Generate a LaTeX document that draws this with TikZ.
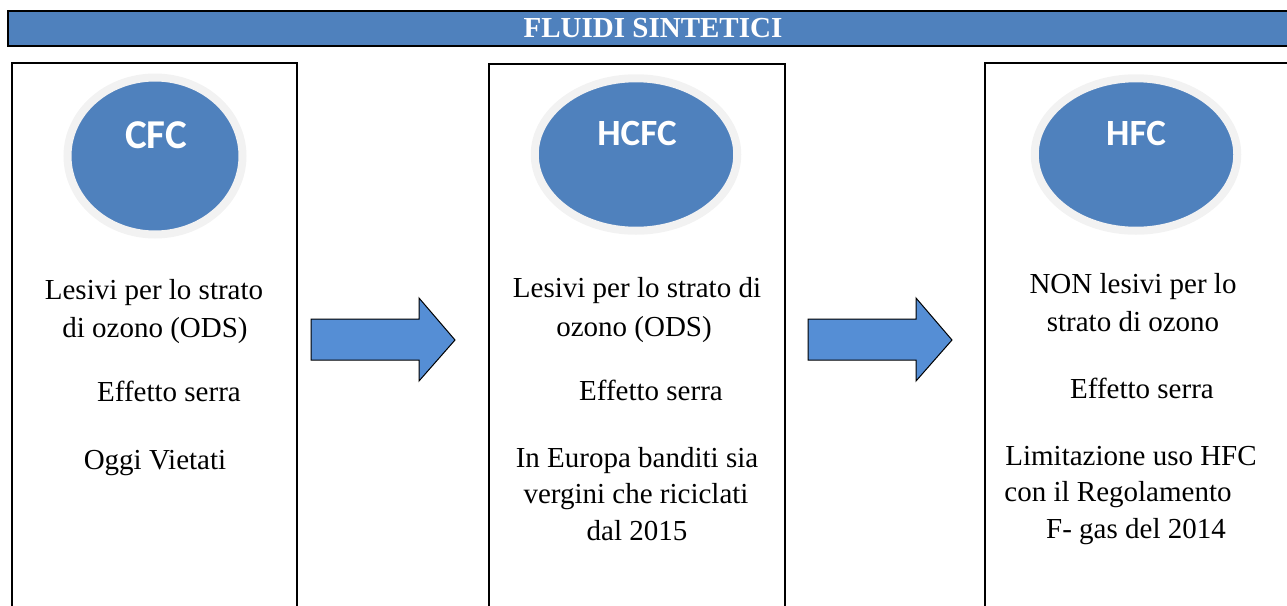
\documentclass[tikz,border=0pt]{standalone}
\usepackage{fontspec}
\setmainfont{Liberation Serif}
\newfontfamily\carlito{Carlito}
\usetikzlibrary{calc}
\definecolor{officeblue}{HTML}{4F81BD}
\definecolor{arrowblue}{HTML}{558ED5}
\definecolor{ringgray}{HTML}{F2F2F2}
\def\blockarrow(#1,#2){\draw[line width=1pt, fill=arrowblue] (#1,#2) -- ++(108,0) -- ++(0,-21) -- ++(36,42) -- ++(-36,41) -- ++(0,-21) -- ++(-108,0) -- cycle;}
\tikzset{
	line/.style={anchor=base, inner sep=0pt, font=\fontsize{29}{37}\selectfont},
	gas/.style={anchor=base, inner sep=0pt, text=white, font=\carlito\bfseries\fontsize{37}{44}\selectfont},
	ring/.style={draw=ringgray, line width=8pt, fill=officeblue}
}

\begin{document}
\begin{tikzpicture}[x=1pt, y=-1pt]
		%%%%% START %%%%%
		
		\useasboundingbox (0, 0) rectangle (1287, 605);
		\clip (0, 0) rectangle (1287, 605);
		
		\draw[line width=1.6pt, fill=officeblue] (8, 11) rectangle (1300, 46);
		\node[anchor=base, inner sep=0pt, text=white, font=\bfseries\fontsize{29}{35}\selectfont] (title) at (653, 37) {FLUIDI SINTETICI};
		
		\draw[line width=1.3pt] (12, 63) rectangle (297, 620);
		\draw[line width=1.3pt] (489, 64) rectangle (785, 620);
		\draw[line width=1.3pt] (985, 63) rectangle (1300, 620);
		
		\draw[ring] (155, 156) ellipse (87.5pt and 78.5pt);
		\draw[ring] (636, 154.5) ellipse (101.25pt and 76.25pt);
		\draw[ring] (1136, 154.5) ellipse (101.25pt and 76.25pt);
		
		\node[gas, font=\carlito\bfseries\fontsize{41}{48}\selectfont] (cfc) at (156, 148) {CFC};
		\node[gas] (hcfc) at (637, 145) {HCFC};
		\node[gas] (hfc) at (1136, 145) {HFC};
		
		\blockarrow(311, 319);
		\blockarrow(808, 319);
		
		\node[line] (cfcA) at (154, 299) {Lesivi per lo strato};
		\node[line] (cfcB) at (155, 337) {di ozono (ODS)};
		\node[line] (cfcC) at (169, 401) {Effetto serra};
		\node[line] (cfcD) at (155, 469) {Oggi Vietati};
		
		\node[line] (hcfcA) at (637, 297) {Lesivi per lo strato di};
		\node[line] (hcfcB) at (634, 336) {ozono (ODS)};
		\node[line] (hcfcC) at (651, 400) {Effetto serra};
		\node[line] (hcfcD) at (637, 467) {In Europa banditi sia};
		\node[line] (hcfcE) at (636, 503) {vergini che riciclati};
		\node[line] (hcfcF) at (637, 540) {dal 2015};
		
		\node[line] (hfcA) at (1133, 293) {NON lesivi per lo};
		\node[line] (hfcB) at (1133, 331) {strato di ozono};
		\node[line] (hfcC) at (1142, 398) {Effetto serra};
		\node[line] (hfcD) at (1131, 465) {Limitazione uso HFC};
		\node[line] (hfcE) at (1118, 501) {con il Regolamento};
		\node[line] (hfcF) at (1136, 538) {F- gas del 2014};
		
		%%%%% END %%%%%
	\end{tikzpicture}
\end{document}
